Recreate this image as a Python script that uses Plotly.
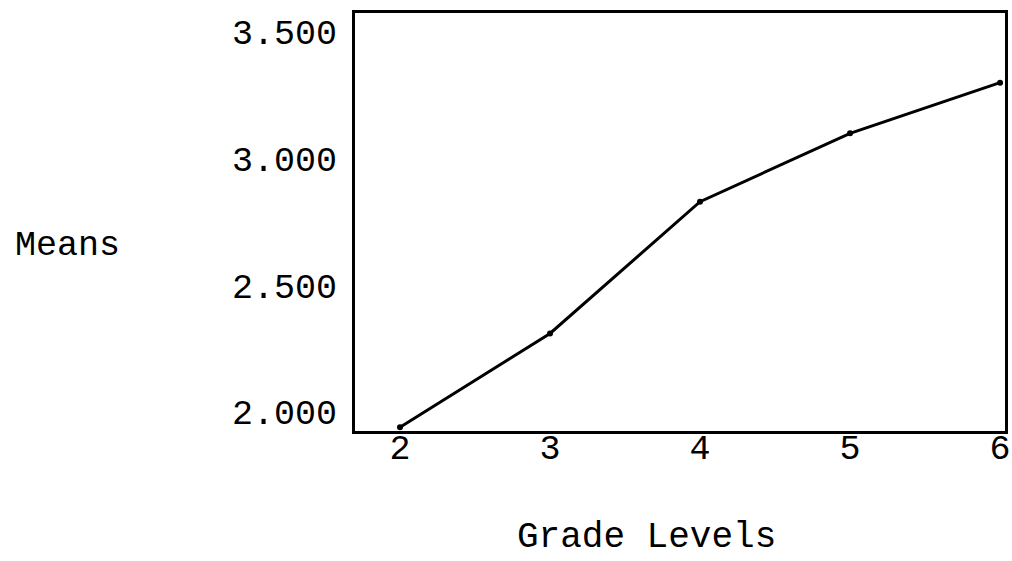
import plotly.graph_objects as go

grades = [2, 3, 4, 5, 6]
means = [1.94, 2.31, 2.83, 3.10, 3.30]
y_ticks = [2.0, 2.5, 3.0, 3.5]
y_tick_text = ["2.000", "2.500", "3.000", "3.500"]
x_ticks = [2, 3, 4, 5, 6]
x_tick_text = ["2", "3", "4", "5", "6"]

FONT = "Liberation Mono"

fig = go.Figure()
fig.add_trace(go.Scatter(
    x=grades, y=means, mode="lines+markers",
    line=dict(color="black", width=3),
    marker=dict(color="black", size=6),
    showlegend=False,
))

fig.update_layout(
    width=1012, height=561,
    margin=dict(l=355, r=7, t=13, b=130),
    paper_bgcolor="white", plot_bgcolor="white",
    font=dict(family=FONT, color="black"),
    xaxis=dict(
        range=[1.7, 6.033], tickvals=x_ticks, ticktext=x_tick_text,
        showgrid=False, zeroline=False, automargin=False,
        showline=True, linecolor="black", linewidth=3, mirror=True,
        ticks="", ticklabelstandoff=-17,
        tickfont=dict(family=FONT, size=35, color="black"),
    ),
    yaxis=dict(
        range=[1.925, 3.575], tickvals=y_ticks, ticktext=y_tick_text,
        showgrid=False, zeroline=False, automargin=False,
        showline=True, linecolor="black", linewidth=3, mirror=True,
        ticks="", ticklabelstandoff=8,
        tickfont=dict(family=FONT, size=35, color="black"),
    ),
    annotations=[
        dict(text="Means", xref="paper", yref="paper", x=-0.443, y=0.443,
             xanchor="center", yanchor="middle", showarrow=False,
             font=dict(family=FONT, size=35, color="black")),
        dict(text="Grade Levels", xref="paper", yref="paper", x=0.449, y=-0.254,
             xanchor="center", yanchor="middle", showarrow=False,
             font=dict(family=FONT, size=36, color="black")),
    ],
)

fig.write_html(
    "out.html",
    config={"displayModeBar": False},
    post_script="document.body.style.margin='0';document.body.style.overflow='hidden';",
)
